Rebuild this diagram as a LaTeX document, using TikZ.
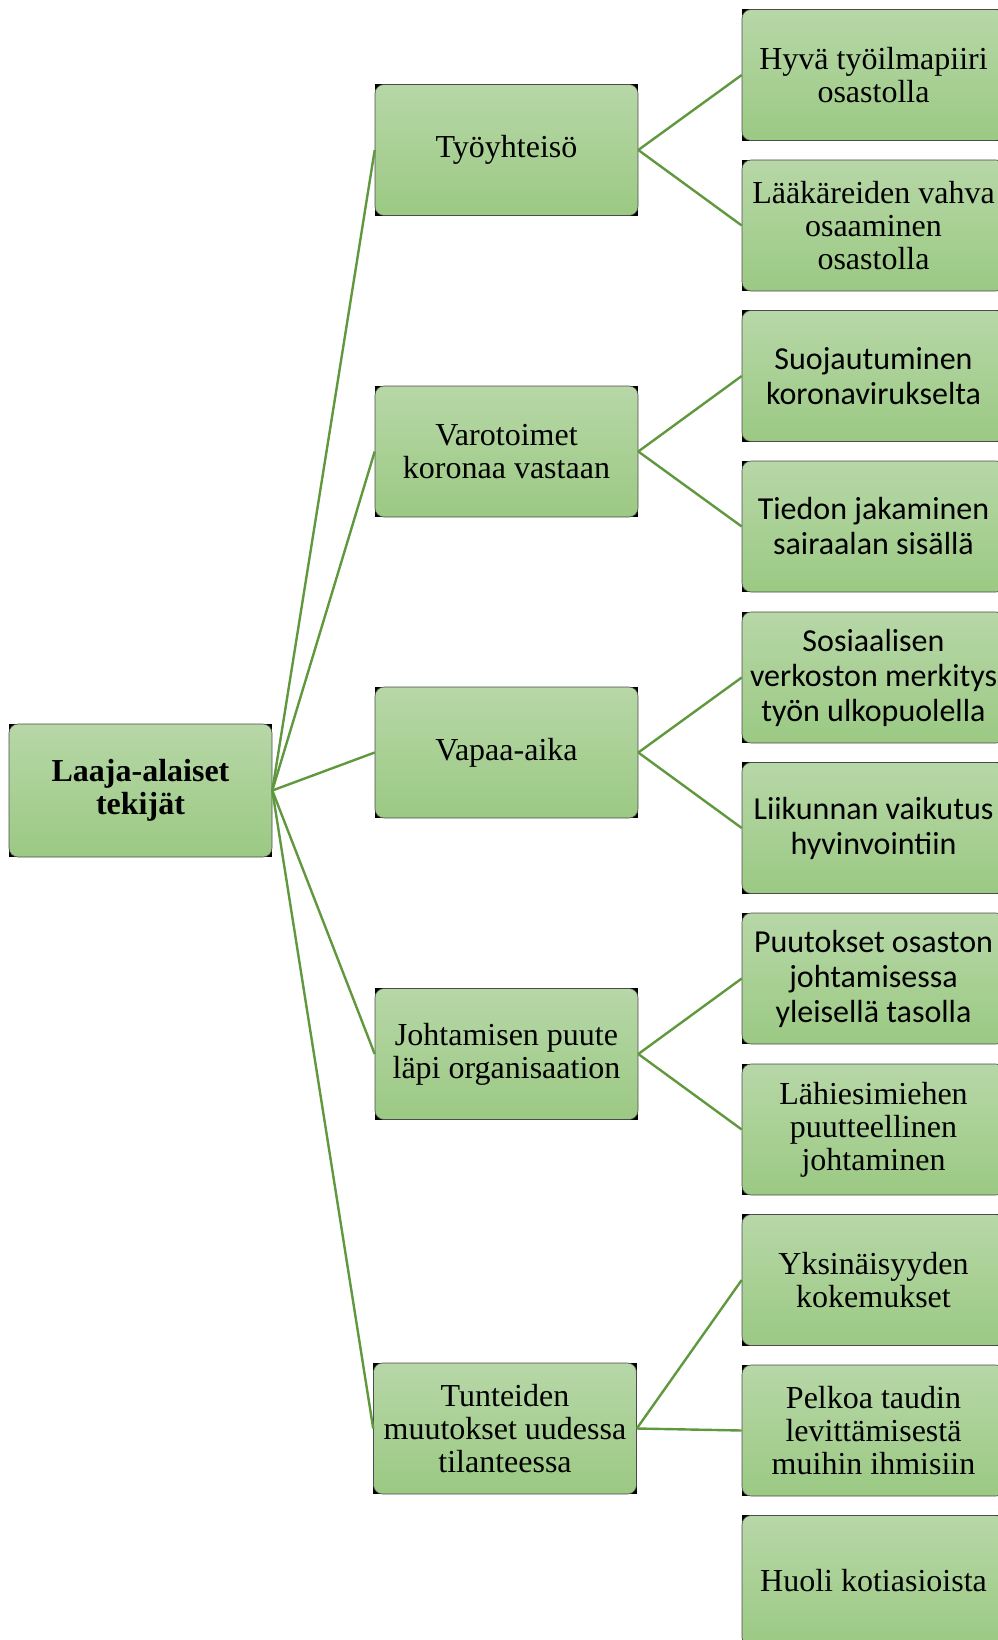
\documentclass[tikz,border=0pt]{standalone}
\usepackage{fontspec}
\setmainfont{Liberation Serif}
\newfontfamily\calibri{Carlito}
\usetikzlibrary{positioning, backgrounds}
\definecolor{boxtop}{RGB}{183,215,167}
\definecolor{boxbottom}{RGB}{155,201,131}
\definecolor{linkgreen}{RGB}{96,152,62}

\begin{document}
\begin{tikzpicture}[x=1pt, y=-1pt,
    box/.style={rectangle, rounded corners=9pt, minimum width=263pt, minimum height=131pt,
        top color=boxtop, bottom color=boxbottom, draw=black!70, line width=0.6pt,
        align=center, inner sep=2pt, font=\fontsize{32}{33}\selectfont},
    sansbox/.style={box, font=\calibri\fontsize{32}{35}\selectfont},
    rootbox/.style={box, minimum height=133pt, font=\bfseries\fontsize{32}{33}\selectfont},
    link/.style={draw=linkgreen, line width=2.4pt}]

    % root and first level
    \node[rootbox] (root) at (140.5,790.5) {Laaja-alaiset\\tekijät};
    \node[box] (tyo) at (506.5,150) {Työyhteisö};
    \node[box] (varo) at (506.5,451.5) {Varotoimet\\koronaa vastaan};
    \node[box] (vapaa) at (506.5,752.5) {Vapaa-aika};
    \node[box] (johto) at (506.5,1054) {Johtamisen puute\\läpi organisaation};
    \node[box] (tunne) at (505,1428.5) {Tunteiden\\muutokset uudessa\\tilanteessa};

    % second level
    \node[box] (ilma) at (873.5,75) {Hyvä työilmapiiri\\osastolla};
    \node[box] (laakari) at (873.5,225.5) {Lääkäreiden vahva\\osaaminen\\osastolla};
    \node[sansbox] (suoja) at (873.5,376) {Suojautuminen\\koronavirukselta};
    \node[sansbox] (tieto) at (873.5,526.5) {Tiedon jakaminen\\sairaalan sisällä};
    \node[sansbox] (sosiaali) at (873.5,677.5) {Sosiaalisen\\verkoston merkitys\\työn ulkopuolella};
    \node[sansbox] (liikunta) at (873.5,828) {Liikunnan vaikutus\\hyvinvointiin};
    \node[sansbox] (puute) at (873.5,978.5) {Puutokset osaston\\johtamisessa\\yleisellä tasolla};
    \node[box] (esimies) at (873.5,1129.5) {Lähiesimiehen\\puutteellinen\\johtaminen};
    \node[box] (yksin) at (873.5,1280) {Yksinäisyyden\\kokemukset};
    \node[box] (pelko) at (873.5,1430.5) {Pelkoa taudin\\levittämisestä\\muihin ihmisiin};
    \node[box] (huoli) at (873.5,1581) {Huoli kotiasioista};

    \begin{scope}[on background layer]
        \foreach \n in {root,tyo,varo,vapaa,johto,tunne,ilma,laakari,suoja,tieto,sosiaali,liikunta,puute,esimies,yksin,pelko,huoli}
            \fill[black] (\n.south west) rectangle (\n.north east);
    \end{scope}

    \path[link]
        (root.east) edge (tyo.west)
        (root.east) edge (varo.west)
        (root.east) edge (vapaa.west)
        (root.east) edge (johto.west)
        (root.east) edge (tunne.west)
        (tyo.east) edge (ilma.west)
        (tyo.east) edge (laakari.west)
        (varo.east) edge (suoja.west)
        (varo.east) edge (tieto.west)
        (vapaa.east) edge (sosiaali.west)
        (vapaa.east) edge (liikunta.west)
        (johto.east) edge (puute.west)
        (johto.east) edge (esimies.west)
        (tunne.east) edge (yksin.west)
        (tunne.east) edge (pelko.west);

    \pgfresetboundingbox
    \useasboundingbox (0,0) rectangle (997,1640);
\end{tikzpicture}
\end{document}
